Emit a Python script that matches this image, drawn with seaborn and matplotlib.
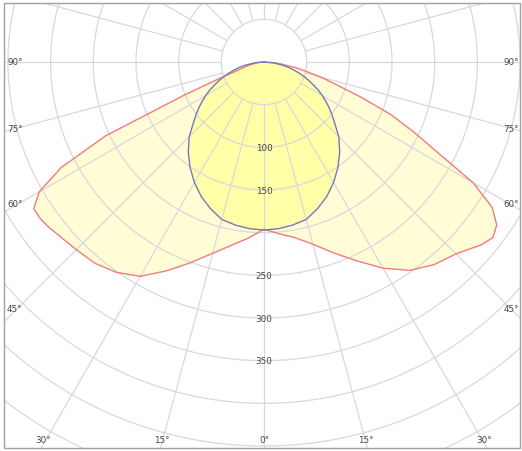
import numpy as np
import matplotlib
matplotlib.use("Agg")
import matplotlib.pyplot as plt
import seaborn as sns
from matplotlib.patches import Rectangle

# ---- data (candela values) ----
gamma = [0, 5, 10, 15, 20, 25, 30, 35, 40, 45, 50, 52.5, 55, 57.5, 60,
         62.5, 65, 67.5, 70, 72.5, 75, 77.5, 80, 85, 90]
c180 = [196, 207, 218, 232, 250, 270, 290, 301, 308, 311, 315, 318, 320, 320, 304,
        268, 205, 100, 52, 32, 24, 19, 14, 7, 0]          # left half, red
c0 = [196, 202, 209, 221, 238, 257, 279, 298, 310, 318, 333, 338, 333, 317, 283,
      229, 193, 161, 122, 90, 70, 50, 37, 16, 0]           # right half, red
c270 = [197, 196, 194, 191, 183, 174, 163, 151, 138, 124, 107, 100, 93, 86, 79,
        72, 64, 57, 50, 43, 36, 30, 23, 11, 0]             # left half, blue
c90 = [197, 196, 194, 191, 183, 174, 163, 151, 138, 124, 107, 100, 93, 86, 79,
       72, 64, 57, 50, 43, 36, 30, 23, 11, 0]              # right half, blue

ring_values = [50, 100, 150, 200, 250, 300, 350, 400, 450, 500, 550]
ring_labels = [100, 150, 250, 300, 350]
spoke_angles = list(range(0, 360, 15))

# ---- layout ----
W, H = 522, 452
cx, cy = 264, 63          # pole in pixels (from top-left)
scale = 42.67 / 50        # px per cd
rmax = 560

sns.set_theme(style="white")
plt.rcParams['font.family'] = ['DejaVu Sans']

fig = plt.figure(figsize=(W / 100, H / 100), dpi=100)
fig.patch.set_facecolor("white")
R = rmax * scale
ax = fig.add_axes([(cx - R) / W, ((H - cy) - R) / H, 2 * R / W, 2 * R / H],
                  projection="polar")
ax.set_theta_zero_location("S")
ax.set_theta_direction(1)
ax.set_ylim(0, rmax)
ax.set_axisbelow("line")
ax.spines["polar"].set_visible(False)
ax.set_xticks([])
ax.set_rgrids(ring_values, labels=[""] * len(ring_values))
ax.yaxis.grid(True, color="#d9d9d9", lw=0.9)
ax.xaxis.grid(False)
ax.set_facecolor("white")

def both_sides(left, right):
    th = np.deg2rad(np.concatenate([-np.array(gamma[::-1]), np.array(gamma[1:])]))
    rr = np.concatenate([np.array(left[::-1]), np.array(right[1:])])
    return th, rr

th_r, r_r = both_sides(c180, c0)
th_b, r_b = both_sides(c270, c90)

ax.fill(th_r, r_r, color="#fffcd6", zorder=1, lw=0)
ax.fill(th_b, r_b, color="#ffffa8", zorder=1.1, lw=0)

for a in spoke_angles:
    t = np.deg2rad(a)
    ax.plot([t, t], [50, rmax], color="#d9d9d9", lw=0.9, zorder=1.5)

sns.lineplot(x=th_r, y=r_r, ax=ax, sort=False, color="#f07c7c", lw=1.0, zorder=3)
sns.lineplot(x=th_b, y=r_b, ax=ax, sort=False, color="#7878b8", lw=1.0, zorder=3.1)

txt_kw = dict(fontsize=6.3, color="#444444", family="DejaVu Sans")
for v in ring_labels:
    ax.text(0, v, str(v), ha="center", va="center", zorder=4, **txt_kw)

# white margins outside frame and the frame itself
for (x0, y0, w, h) in [(0, 0, 4 / W, 1), (520 / W, 0, 1, 1),
                       (0, 0, 1, 3 / H), (0, 1 - 4 / H, 1, 1)]:
    fig.patches.append(Rectangle((x0, y0), w, h, transform=fig.transFigure,
                                 facecolor="white", edgecolor="none", zorder=1))
fig.patches.append(Rectangle((4 / W, 3 / H), 516 / W, 445 / H, transform=fig.transFigure,
                             fill=False, edgecolor="#a0a0a0", lw=1.0, zorder=2))

# angle labels at the frame
side_labels = [("90°", 63), ("75°", 129), ("60°", 205), ("45°", 310)]
for s, y in side_labels:
    fig.text(7 / W, 1 - y / H, s, ha="left", va="center", **txt_kw)
    fig.text(519 / W, 1 - y / H, s, ha="right", va="center", **txt_kw)
bottom_labels = [("30°", 43), ("15°", 162), ("0°", 264), ("15°", 366), ("30°", 484)]
for s, x in bottom_labels:
    fig.text(x / W, 1 - 441 / H, s, ha="center", va="center", **txt_kw)

fig.savefig("out.png", dpi=100)
